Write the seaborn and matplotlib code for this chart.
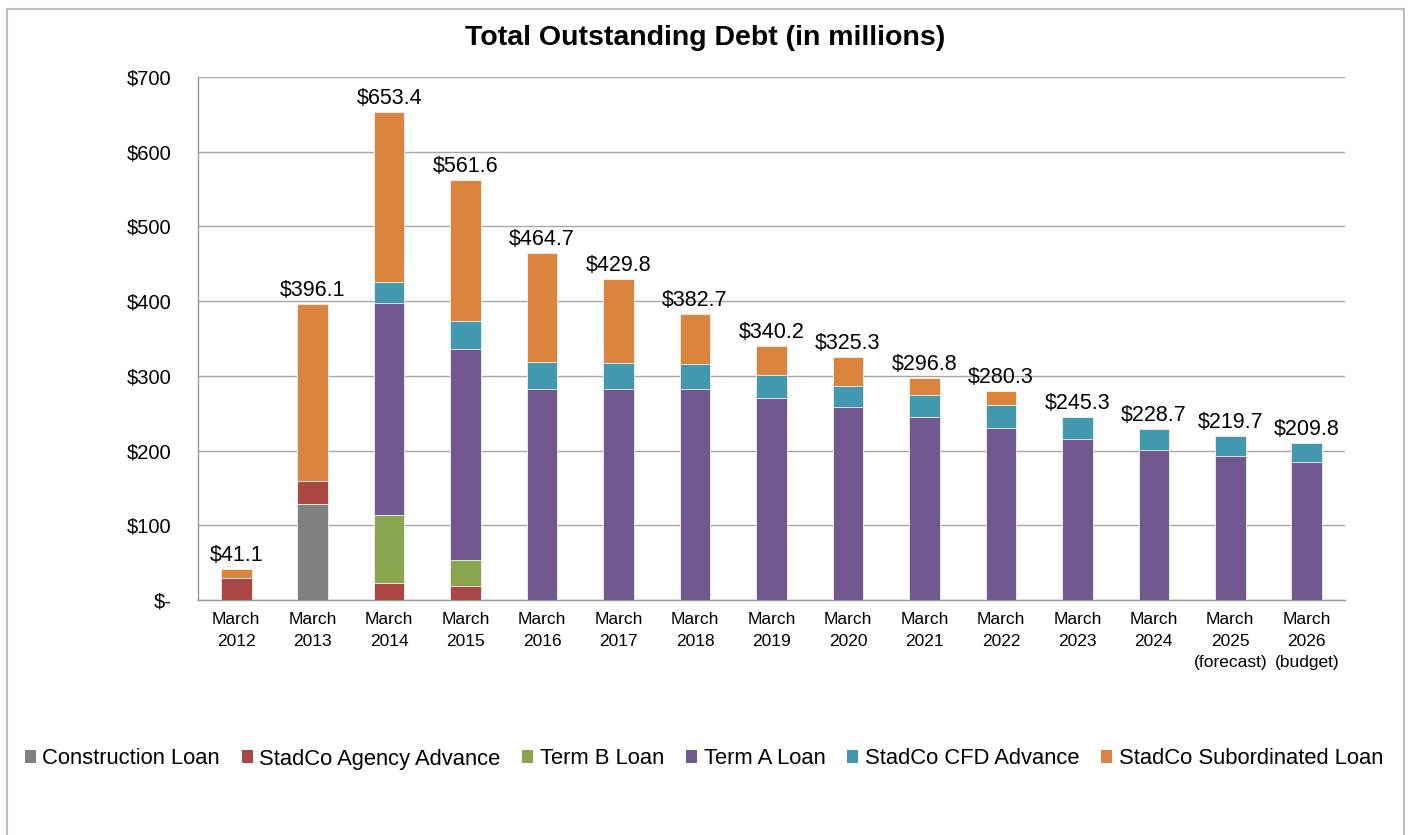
import numpy as np
import pandas as pd
import matplotlib
import matplotlib.pyplot as plt
import seaborn as sns
from matplotlib.patches import Patch, Rectangle

matplotlib.use('Agg')

years = ['March\n2012', 'March\n2013', 'March\n2014', 'March\n2015', 'March\n2016',
         'March\n2017', 'March\n2018', 'March\n2019', 'March\n2020', 'March\n2021',
         'March\n2022', 'March\n2023', 'March\n2024', 'March\n2025\n(forecast)',
         'March\n2026\n(budget)']

construction = [0, 128.0, 0, 0, 0, 0, 0, 0, 0, 0, 0, 0, 0, 0, 0]
agency = [30.0, 31.7, 22.3, 18.7, 0, 0, 0, 0, 0, 0, 0, 0, 0, 0, 0]
term_b = [0, 0, 91.5, 34.8, 0, 0, 0, 0, 0, 0, 0, 0, 0, 0, 0]
term_a = [0, 0, 283.4, 282.9, 282.9, 282.9, 282.9, 270.8, 258.0, 244.5, 230.7,
          216.0, 200.8, 193.2, 185.2]
cfd = [0, 0, 28.9, 37.5, 36.1, 34.8, 33.4, 30.8, 28.5, 29.5, 29.9, 29.3, 27.9, 26.5, 24.6]
totals = [41.1, 396.1, 653.4, 561.6, 464.7, 429.8, 382.7, 340.2, 325.3, 296.8, 280.3,
          245.3, 228.7, 219.7, 209.8]

series_names = ['Construction Loan', 'StadCo Agency Advance', 'Term B Loan',
                'Term A Loan', 'StadCo CFD Advance', 'StadCo Subordinated Loan']
colors = ['#808080', '#AA4643', '#89A54E', '#71588F', '#4198AF', '#DB843D']

df = pd.DataFrame({
    'Year': years,
    'Construction Loan': construction,
    'StadCo Agency Advance': agency,
    'Term B Loan': term_b,
    'Term A Loan': term_a,
    'StadCo CFD Advance': cfd,
})
df['StadCo Subordinated Loan'] = np.array(totals) - df[series_names[:-1]].sum(axis=1)

# cumulative heights, drawn from the top layer down so they stack
cum = df[series_names].cumsum(axis=1)

sns.set_style('white')
plt.rcParams['font.family'] = ['Liberation Sans', 'DejaVu Sans']
plt.rcParams['text.color'] = 'black'
plt.rcParams['xtick.color'] = 'black'
plt.rcParams['ytick.color'] = 'black'

fig = plt.figure(figsize=(14.08, 8.35), dpi=100)
ax = fig.add_axes([198 / 1408, 1 - 600 / 835, (1345 - 198) / 1408, 523 / 835])

for name, color in reversed(list(zip(series_names, colors))):
    sns.barplot(x=df['Year'], y=cum[name], color=color, saturation=1, width=0.4, ax=ax,
                edgecolor='#F2F2F2', linewidth=0.6, zorder=3)

for i, t in enumerate(totals):
    ax.text(i, t + 4, f'${t:.1f}', ha='center', va='bottom', fontsize=15.5, zorder=4)

ax.set_xlim(-0.5, len(years) - 0.5)
ax.set_ylim(0, 700)
ax.set_yticks(range(0, 701, 100))
ax.set_yticklabels(['$-'] + [f'${v}' for v in range(100, 701, 100)])
ax.set_xlabel('')
ax.set_ylabel('')
ax.grid(axis='y', color='#A6A6A6', linewidth=1.0, zorder=0)
ax.set_axisbelow(True)

ax.set_xticks(range(len(years)))
ax.set_xticklabels(years, linespacing=1.5)
ax.set_xticks(np.arange(-0.5, len(years), 1.0), minor=True)
ax.tick_params(axis='x', which='major', length=0, pad=9, labelsize=12.5)
ax.tick_params(axis='x', which='minor', length=5, color='#999999', width=1)
ax.tick_params(axis='y', length=5, color='#999999', width=1, pad=14, labelsize=14.5)

for side in ['top', 'right']:
    ax.spines[side].set_visible(False)
for side in ['left', 'bottom']:
    ax.spines[side].set_color('#999999')
    ax.spines[side].set_linewidth(1)

fig.text(705 / 1408, 1 - 38 / 835, 'Total Outstanding Debt (in millions)', ha='center',
         va='center', fontsize=20.5, fontweight='bold')

handles = [Patch(facecolor=c, edgecolor='none', label=n) for n, c in zip(series_names, colors)]
fig.legend(handles=handles, loc='center', bbox_to_anchor=(0.5, 1 - 759 / 835), ncol=6,
           frameon=False, fontsize=15.8, handlelength=0.5, handleheight=0.5,
           handletextpad=0.3, columnspacing=1.0)

fig.patches.append(Rectangle((7 / 1408, -0.01), (1404 - 7) / 1408, 1 - 9 / 835 + 0.01,
                             transform=fig.transFigure, fill=False,
                             edgecolor='#BFBFBF', linewidth=1.5))

fig.savefig('out.png', dpi=100)
